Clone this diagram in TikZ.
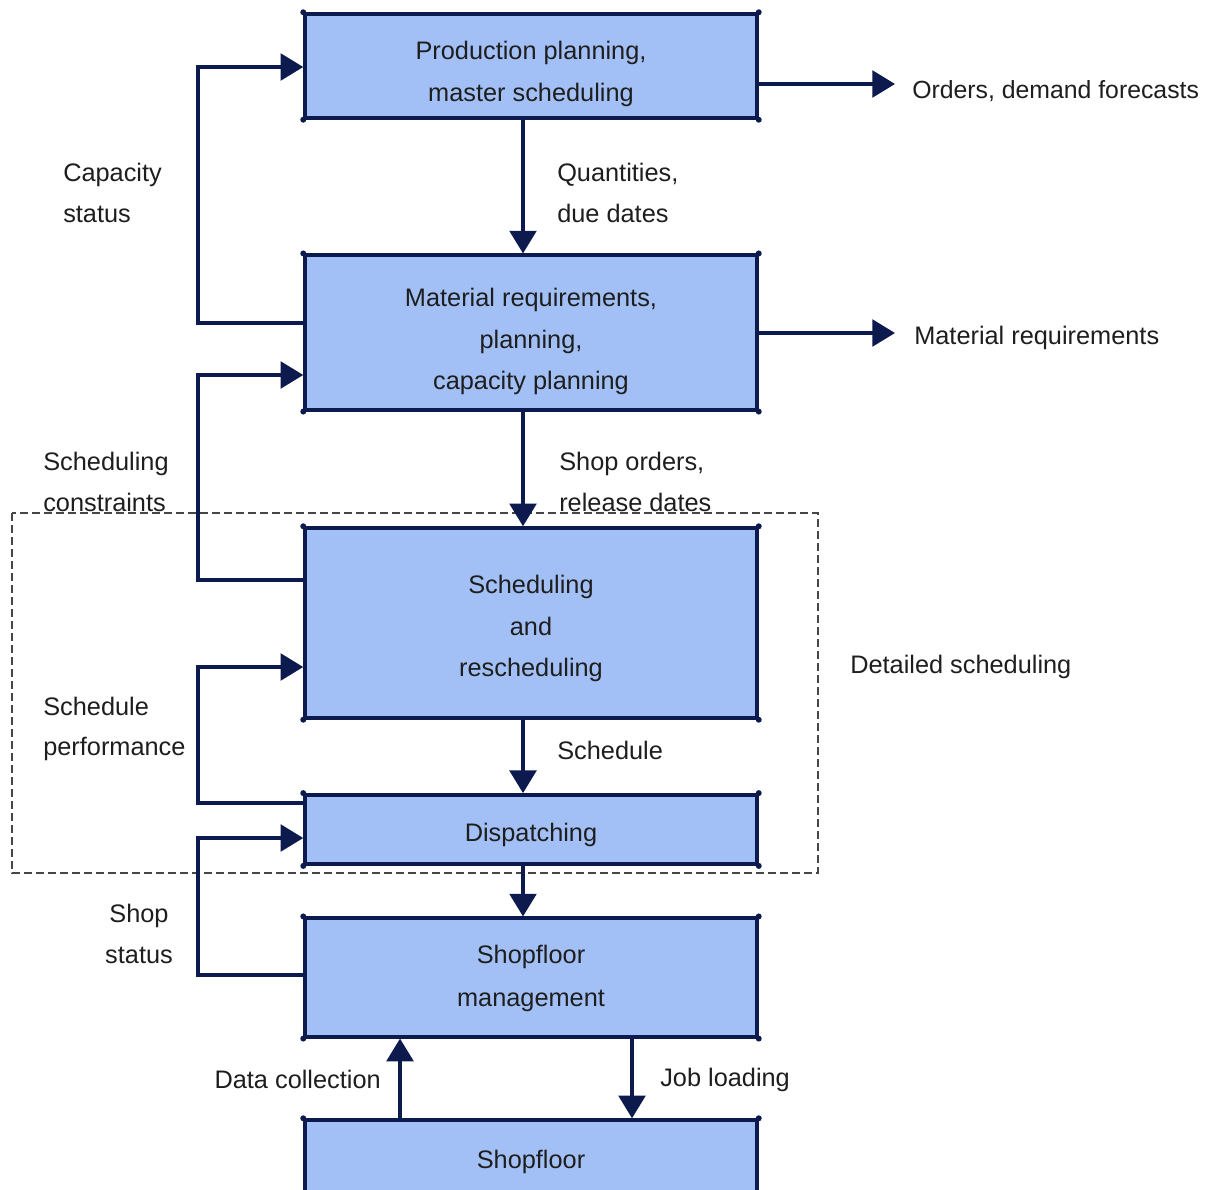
\documentclass[tikz,border=0pt]{standalone}
\usepackage{fontspec}
\setmainfont{Liberation Sans}
\usetikzlibrary{arrows.meta}
\definecolor{boxfill}{RGB}{162,192,246}
\definecolor{navy}{RGB}{12,26,78}
\definecolor{txt}{RGB}{30,30,30}
\definecolor{dashgray}{RGB}{70,70,70}
\tikzset{
  pbox/.style={draw=navy, fill=boxfill, line width=2.6pt, minimum width=339pt, inner sep=0pt},
  btxt/.style={text=txt, font=\fontsize{19}{30.8}\selectfont, inner sep=0pt, align=center},
  lbl/.style={text=txt, font=\fontsize{19}{30.5}\selectfont, inner sep=0pt},
  arr/.style={draw=navy, line width=2.6pt, -{Triangle[length=17pt,width=20pt]}},
  dbox/.style={draw=dashgray, line width=1.6pt, dash pattern=on 6pt off 3pt}
}
\begin{document}
\begin{tikzpicture}[x=0.75pt,y=-0.75pt]
\clip (0,0) rectangle (1212,1189);
\fill[white] (0,0) rectangle (1212,1189);
% boxes
\node[pbox, minimum height=78pt] (b1) at (531,66) {};
\node[pbox, minimum height=116pt] (b2) at (531,332.5) {};
\node[pbox, minimum height=142.5pt] (b3) at (531,623) {};
\node[pbox, minimum height=52pt] (b4) at (531,829.5) {};
\node[pbox, minimum height=89pt] (b5) at (531,977.5) {};
\node[pbox, minimum height=90pt] (b6) at (531,1180) {};
% box texts
\node[btxt, font=\fontsize{19}{31.5}\selectfont] (t1) at (531,74) {Production planning,\\master scheduling};
\node[btxt] (t2) at (531,341.5) {Material requirements,\\planning,\\capacity planning};
\node[btxt] (t3) at (531,628.5) {Scheduling\\and\\rescheduling};
\node[btxt] (t4) at (531,835) {Dispatching};
\node[btxt, font=\fontsize{19}{32}\selectfont] (t5) at (531,978.5) {Shopfloor\\management};
\node[btxt] (t6) at (531,1162) {Shopfloor};
% corner dots
\foreach \b in {b1,b2,b3,b4,b5,b6}{
  \foreach \c in {north west,north east,south west,south east}{
    \fill[navy] (\b.\c) circle (3);
  }
}
% dashed region
\draw[dbox] (12,513) rectangle (818,873);
% labels
\node[lbl, anchor=west, align=left] (capl) at (63,193) {Capacity\\status};
\node[lbl, anchor=west, align=left] (qty) at (557,193) {Quantities,\\due dates};
\node[lbl, anchor=west, font=\fontsize{18.6}{30}\selectfont] (ord) at (912,91) {Orders, demand forecasts};
\node[lbl, anchor=west] (mat) at (914,338) {Material requirements};
\node[lbl, anchor=west, align=left] (scl) at (43,482) {Scheduling\\constraints};
\node[lbl, anchor=west, align=left] (sho) at (559,482) {Shop orders,\\release dates};
\node[lbl, anchor=west] (det) at (850,667) {Detailed scheduling};
\node[lbl, anchor=west, align=left] (spf) at (43,729) {Schedule\\performance};
\node[lbl, anchor=west] (sch) at (557,750) {Schedule};
\node[lbl, align=center] (sst) at (139,934) {Shop\\status};
\node[lbl, anchor=east] (dc) at (381,1079) {Data collection};
\node[lbl, anchor=west] (jl) at (660,1080) {Job loading};
% free ends
\coordinate (o1) at (895,84);
\coordinate (o2) at (895,333);
% vertical flow
\draw[arr] (b1.south -| 523,0) -- (b2.north -| 523,0);
\draw[arr] (b2.south -| 523,0) -- (b3.north -| 523,0);
\draw[arr] (b3.south -| 523,0) -- (b4.north -| 523,0);
\draw[arr] (b4.south -| 523,0) -- (b5.north -| 523,0);
\draw[arr] (b6.north -| 400,0) -- (b5.south -| 400,0);
\draw[arr] (b5.south -| 632,0) -- (b6.north -| 632,0);
% outputs
\draw[arr] (b1.east |- o1) -- (o1);
\draw[arr] (b2.east |- o2) -- (o2);
% feedback loops
\draw[arr] (b2.west |- 0,323) -- (198,323) |- (b1.west |- 0,67);
\draw[arr] (b3.west |- 0,580) -- (198,580) |- (b2.west |- 0,375);
\draw[arr] (b4.west |- 0,803) -- (198,803) |- (b3.west |- 0,667);
\draw[arr] (b5.west |- 0,975) -- (198,975) |- (b4.west |- 0,838);
\end{tikzpicture}
\end{document}
